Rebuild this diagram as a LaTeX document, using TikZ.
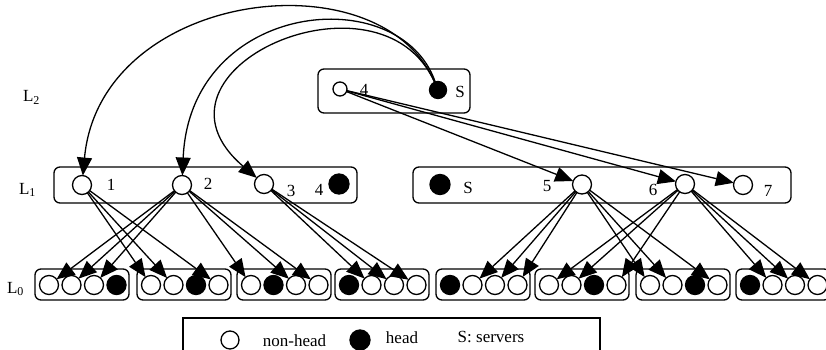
\documentclass[tikz,border=0pt]{standalone}
\usepackage{fontspec}
\setmainfont{Liberation Serif}
\usetikzlibrary{arrows.meta}

\newcommand{\lvl}[1]{L{\fontsize{12}{12}\selectfont\raisebox{-2pt}{#1}}}

\begin{document}
\begin{tikzpicture}[x=1pt,y=-1pt,
  every node/.style={inner sep=0pt, outer sep=0pt},
  lbl/.style={font=\fontsize{17}{17}\selectfont},
  grp/.style={draw, line width=1.3pt, rounded corners=6pt},
  mem/.style={circle, draw, line width=1.3pt, fill=white, minimum size=19pt},
  hd/.style={circle, draw, line width=1.3pt, fill=black, minimum size=19pt},
  arr/.style={line width=1.3pt, -{Triangle[length=18pt,width=15pt]}},
]
\useasboundingbox (0,0) rectangle (826,350);
\clip (0,0) rectangle (826,350);

% level labels
\node[lbl, anchor=base west] (lab2) at (23,102) {\lvl{2}};
\node[lbl, anchor=base west] (lab1) at (19,194) {\lvl{1}};
\node[lbl, anchor=base west] (lab0) at (7,293) {\lvl{0}};

% level 2 group
\draw[grp] (318,69) rectangle (470,113);
\node[mem, minimum size=14pt] (o4) at (340,89) {};
\node[lbl] (t4) at (364,90) {4};
\node[hd, minimum size=17pt] (S2) at (438,90) {};
\node[lbl] (tS2) at (460,92) {S};

% level 1 groups
\draw[grp] (54,167) rectangle (357,203);
\node[mem] (n1) at (82,185) {};
\node[lbl] (t1) at (111,185) {1};
\node[mem] (n2) at (182,185) {};
\node[lbl] (t2) at (208,184) {2};
\node[mem] (n3) at (264,184) {};
\node[lbl] (t3) at (291,191) {3};
\node[lbl] (t4b) at (319,190) {4};
\node[hd, minimum size=20pt] (h4) at (339,184) {};

\draw[grp] (413,167) rectangle (791,203);
\node[hd, minimum size=20pt] (S1) at (440,184.5) {};
\node[lbl] (tS1) at (468,188) {S};
\node[lbl] (t5) at (547,186) {5};
\node[mem] (n5) at (582,184.5) {};
\node[lbl] (t6) at (653,190) {6};
\node[mem] (n6) at (685,184) {};
\node[mem] (n7) at (743,185) {};
\node[lbl] (t7) at (768,191) {7};

% level 0 clusters: left edge / position of the head
\foreach \bx/\h [count=\b] in {35/4,137/3,237/2,335/1,436/1,535/3,636/3,736/1} {
  \draw[grp] (\bx,269) rectangle ++(94,31);
  \foreach \k in {1,...,4} {
    \pgfmathsetmacro\cx{\bx+14+22.5*(\k-1)}
    \ifnum\k=\h
      \node[hd] (c\b-\k) at (\cx,285) {};
    \else
      \node[mem] (c\b-\k) at (\cx,285) {};
    \fi
  }
}

% servers to level-1 members
\draw[arr] (S2) .. controls (380,-45) and (100,-10) .. (n1);
\draw[arr] (S2) .. controls (400,-20) and (190,0) .. (n2);
\draw[arr] (S2) .. controls (380,-40) and (130,70) .. (n3);

% level-2 head to level-1 members
\foreach \t in {n5,n6,n7} \draw[arr] (o4) -- (\t);

% level-1 members to level-0 non-heads
\foreach \s/\t in {n1/c2-1,n1/c2-2,n1/c2-4,
                   n2/c1-1,n2/c1-2,n2/c1-3,n2/c3-1,n2/c3-3,n2/c3-4,
                   n3/c4-2,n3/c4-3,n3/c4-4,
                   n5/c5-2,n5/c5-3,n5/c5-4,n5/c7-1,n5/c7-2,n5/c7-4,
                   n6/c6-1,n6/c6-2,n6/c6-4,n6/c8-2,n6/c8-3,n6/c8-4}
  \draw[arr] (\s) -- (\t);

% legend
\draw[line width=1.3pt] (183,318) rectangle (600,362);
\node[mem, minimum size=18pt] (lgo) at (230,340) {};
\node[lbl, anchor=base] (lgt1) at (294.5,346.5) {non-head};
\node[hd, minimum size=20pt] (lgf) at (360,340) {};
\node[lbl, anchor=base] (lgt2) at (402,343.5) {head};
\node[lbl, anchor=base] (lgt3) at (491,342) {S: servers};
\end{tikzpicture}
\end{document}
